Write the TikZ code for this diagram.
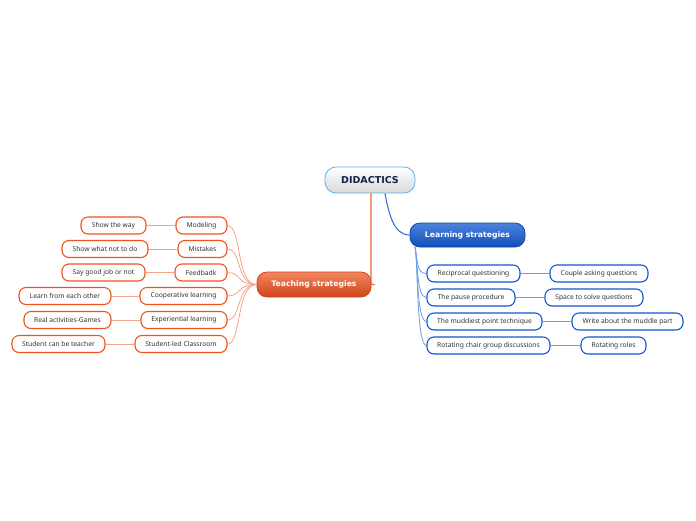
\documentclass[tikz,border=0pt]{standalone}
\usepackage{fontspec}
\setmainfont{Noto Sans}
\newfontfamily\hfont{DejaVu Sans}
\definecolor{orb}{HTML}{F0521E}
\definecolor{orl}{HTML}{F7A486}
\definecolor{orline}{HTML}{F06232}
\definecolor{blb}{HTML}{1358D0}
\definecolor{bll}{HTML}{6F9DE6}
\definecolor{dkt}{HTML}{333333}
\definecolor{navy}{HTML}{14224A}
\tikzset{
  leaf/.style={draw=#1, line width=1.1pt, fill=white, rounded corners=7pt,
    minimum height=17pt, inner sep=0pt, font=\fontsize{6.7}{7.5}\selectfont, text=dkt},
  ochild/.style={leaf=orb},
  bchild/.style={leaf=blb},
  oline/.style={draw=orl, line width=0.8pt},
  bline/.style={draw=bll, line width=0.8pt},
}
\begin{document}
\begin{tikzpicture}[x=1pt,y=-1pt]
\useasboundingbox (0,0) rectangle (696,520);
% central
\node[draw=bll!80!cyan, line width=0.8pt, top color=white, bottom color=black!15, rounded corners=11pt,
  minimum width=90pt, minimum height=26pt, inner sep=0pt, text=navy,
  font=\hfont\fontsize{9.5}{11}\selectfont\bfseries] (D) at (370,180) {DIDACTICS};
\node[draw=blb!80!black, line width=0.8pt, top color=blb!75!white, bottom color=blb!90!black, rounded corners=10pt,
  minimum width=115pt, minimum height=24pt, inner sep=0pt, text=white,
  font=\hfont\fontsize{7.7}{9}\selectfont\bfseries] (L) at (467.5,235) {Learning strategies};
\node[draw=orb!85!black, line width=0.8pt, top color=orb!70!white, bottom color=orb!85!black, rounded corners=10pt,
  minimum width=114pt, minimum height=25pt, inner sep=0pt, text=white,
  font=\hfont\fontsize{7.7}{9}\selectfont\bfseries] (T) at (314,284.5) {Teaching strategies};

% teaching children
\node[ochild, minimum width=51pt] (t1) at (201.5,225.5) {Modeling};
\node[ochild, minimum width=49pt] (t2) at (202.5,249) {Mistakes};
\node[ochild, minimum width=52pt] (t3) at (201,272.5) {Feedbadk};
\node[ochild, minimum width=87pt] (t4) at (183.5,296) {Cooperative learning};
\node[ochild, minimum width=86pt] (t5) at (184,320) {Experiential learning};
\node[ochild, minimum width=92pt] (t6) at (181,344) {Student-led Classroom};

\node[ochild, minimum width=65pt] (g1) at (113.5,225.5) {Show the way};
\node[ochild, minimum width=86pt] (g2) at (105,249) {Show what not to do};
\node[ochild, minimum width=83pt] (g3) at (103.5,272.5) {Say good job or not};
\node[ochild, minimum width=92pt] (g4) at (65,296) {Learn from each other};
\node[ochild, minimum width=87pt] (g5) at (67.5,320) {Real activities-Games};
\node[ochild, minimum width=93pt] (g6) at (58.5,344) {Student can be teacher};

% learning children
\node[bchild, minimum width=93pt] (l1) at (473.5,273.5) {Reciprocal questioning};
\node[bchild, minimum width=88pt] (l2) at (471,297.5) {The pause procedure};
\node[bchild, minimum width=115pt] (l3) at (484.5,321.5) {The muddiest point technique};
\node[bchild, minimum width=123pt] (l4) at (488.5,345.5) {Rotating chair group discussions};

\node[bchild, minimum width=98pt] (m1) at (599,273.5) {Couple asking questions};
\node[bchild, minimum width=98pt] (m2) at (594,297.5) {Space to solve questions};
\node[bchild, minimum width=111pt] (m3) at (627.5,321.5) {Write about the muddle part};
\node[bchild, minimum width=65pt] (m4) at (613.5,345.5) {Rotating roles};

% main connectors
\draw[draw=orline, line width=1.1pt, rounded corners=2pt] ([xshift=1pt]D.south) |- (T.east);
\draw[draw=blb!85!white, line width=1.1pt] ([xshift=15pt]D.south) .. controls (389,215) and (394,235) .. (L.west);

% teaching connectors
\foreach \i in {1,...,6}{
  \draw[oline] (T.west) .. controls (236,284.5) and ([xshift=14pt]t\i.east) .. (t\i.east);
}
\foreach \i in {1,...,6}{
  \draw[oline] (t\i.west) -- (g\i.east);
}

% learning connectors
\coordinate (La) at (415,247);
\foreach \i in {1,...,4}{
  \draw[bline] (La) .. controls (418,262) and ([xshift=-10pt]l\i.west) .. (l\i.west);
}
\foreach \i in {1,...,4}{
  \draw[bline] (l\i.east) -- (m\i.west);
}
\end{tikzpicture}
\end{document}
